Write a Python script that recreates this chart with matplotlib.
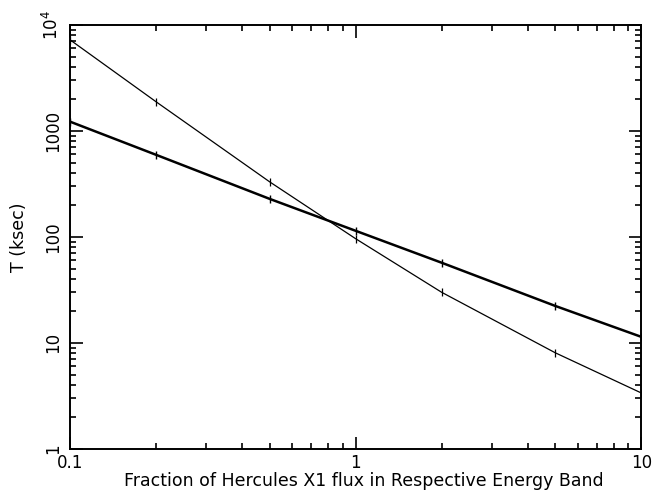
import numpy as np
import matplotlib.pyplot as plt
from matplotlib.ticker import FixedLocator, FixedFormatter, LogLocator, NullFormatter

# flux fraction and required exposure time for the two energy bands
fraction = [0.1, 0.2, 0.5, 1, 2, 5, 10]
t_band_a = [1220, 594, 228, 114, 57, 22.3, 11.4]
t_band_b = [7210, 1880, 330, 96, 30, 8.06, 3.37]

fig = plt.figure(figsize=(6.55, 4.96), dpi=100)
ax = fig.add_axes([0.107, 0.095, 0.872, 0.855])

ax.plot(fraction, t_band_a, color='black', lw=1.8, marker='|', ms=6, mew=1.0)
ax.plot(fraction, t_band_b, color='black', lw=0.9, marker='|', ms=6, mew=0.9)

ax.set_xscale('log')
ax.set_yscale('log')
ax.set_xlim(0.1, 10)
ax.set_ylim(1, 1e4)

ax.xaxis.set_major_locator(FixedLocator([0.1, 1, 10]))
ax.xaxis.set_major_formatter(FixedFormatter(['0.1', '1', '10']))
ax.yaxis.set_major_locator(FixedLocator([1, 10, 100, 1000, 1e4]))
ax.yaxis.set_major_formatter(FixedFormatter(['1', '10', '100', '1000', r'$10^4$']))
ax.xaxis.set_minor_locator(LogLocator(base=10, subs=np.arange(2, 10)))
ax.yaxis.set_minor_locator(LogLocator(base=10, subs=np.arange(2, 10)))
ax.xaxis.set_minor_formatter(NullFormatter())
ax.yaxis.set_minor_formatter(NullFormatter())

ax.tick_params(which='both', direction='in', top=True, right=True, width=1.2)
ax.tick_params(which='major', length=9, labelsize=12)
ax.tick_params(which='minor', length=4.5)
ax.tick_params(axis='y', which='major', pad=6)
ax.tick_params(axis='x', which='major', pad=4)
for lab in ax.get_yticklabels():
    lab.set_rotation(90)
    lab.set_va('center')
for s in ax.spines.values():
    s.set_linewidth(1.4)

ax.set_xlabel('Fraction of Hercules X1 flux in Respective Energy Band', fontsize=12.5, labelpad=0)
ax.xaxis.label.set_x(0.515)
ax.set_ylabel('T (ksec)', fontsize=12.5, labelpad=10)

fig.savefig('out.png', dpi=100)
